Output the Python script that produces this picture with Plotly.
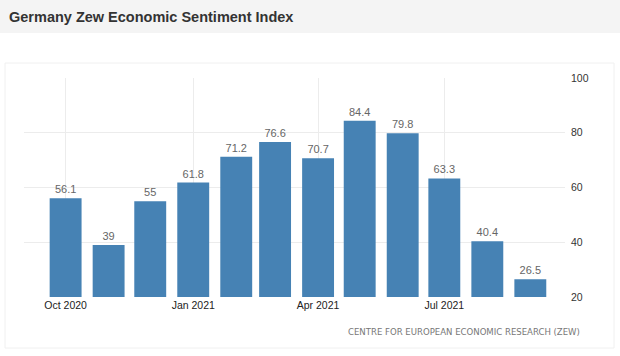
import plotly.graph_objects as go

months = ["2020-10-01", "2020-11-01", "2020-12-01", "2021-01-01", "2021-02-01", "2021-03-01",
          "2021-04-01", "2021-05-01", "2021-06-01", "2021-07-01", "2021-08-01", "2021-09-01"]
values = [56.1, 39, 55, 61.8, 71.2, 76.6, 70.7, 84.4, 79.8, 63.3, 40.4, 26.5]
labels = ["56.1", "39", "55", "61.8", "71.2", "76.6", "70.7", "84.4", "79.8", "63.3", "40.4", "26.5"]
x_tick_vals = ["2020-10-01", "2021-01-01", "2021-04-01", "2021-07-01"]
x_tick_text = ["Oct 2020", "Jan 2021", "Apr 2021", "Jul 2021"]
y_ticks = [20, 40, 60, 80, 100]

W, H = 620, 356
L, R, T, B = 24, 565, 78, 297
pw, ph = R - L, B - T

def px(x):
    return (x - L) / pw

def py(y):
    return (B - y) / ph

DAY = 86400000

fig = go.Figure()
fig.add_trace(go.Bar(
    x=months, y=values, text=labels, textposition="outside",
    textfont=dict(color="#666666", size=11, family="Liberation Sans, Arial, sans-serif"),
    marker=dict(color="#4682b4", line=dict(width=0)),
    width=23 * DAY, cliponaxis=False, hoverinfo="x+y",
))

fig.update_layout(
    width=W, height=H,
    margin=dict(l=L, r=W - R, t=T, b=H - B, pad=0),
    paper_bgcolor="white", plot_bgcolor="white",
    showlegend=False,
    font=dict(family="Liberation Sans, Arial, sans-serif", size=10, color="#333333"),
    xaxis=dict(
        type="date", range=["2020-09-01", "2021-09-26"],
        tickvals=x_tick_vals, ticktext=x_tick_text,
        showgrid=True, gridcolor="#ececec", gridwidth=1,
        zeroline=False, showline=False, ticks="",
        tickfont=dict(size=10.5, color="#222222"),
    ),
    yaxis=dict(
        side="right", range=[20, 100], tickvals=y_ticks,
        showgrid=True, gridcolor="#ececec", gridwidth=1,
        zeroline=False, showline=False, ticks="",
        tickfont=dict(size=10.5, color="#333333"), ticklabelstandoff=5,
    ),
    shapes=[
        dict(type="rect", xref="paper", yref="paper", layer="below",
             x0=px(0), x1=px(W), y0=py(33), y1=py(0),
             fillcolor="#f4f4f4", line=dict(width=0)),
        dict(type="rect", xref="paper", yref="paper", layer="below",
             x0=px(5), x1=px(614), y0=py(348), y1=py(63),
             fillcolor="rgba(0,0,0,0)", line=dict(color="#f0f0f0", width=1)),
    ],
    annotations=[
        dict(text="<b>Germany Zew Economic Sentiment Index</b>", xref="paper", yref="paper",
             x=px(7), y=py(17), xanchor="left", yanchor="middle", showarrow=False,
             font=dict(size=14.5, color="#333333", family="Liberation Sans, Arial, sans-serif")),
        dict(text="CENTRE FOR EUROPEAN ECONOMIC RESEARCH (ZEW)", xref="paper", yref="paper",
             x=px(582), y=py(331), xanchor="right", yanchor="middle", showarrow=False,
             font=dict(size=9.5, color="#777777",
                       family="DejaVu Sans Condensed, Liberation Sans Narrow, Liberation Sans, sans-serif")),
    ],
)

fig.write_html("out.html", config={"displayModeBar": False},
               post_script="document.body.style.margin='0';document.body.style.overflow='hidden';")
